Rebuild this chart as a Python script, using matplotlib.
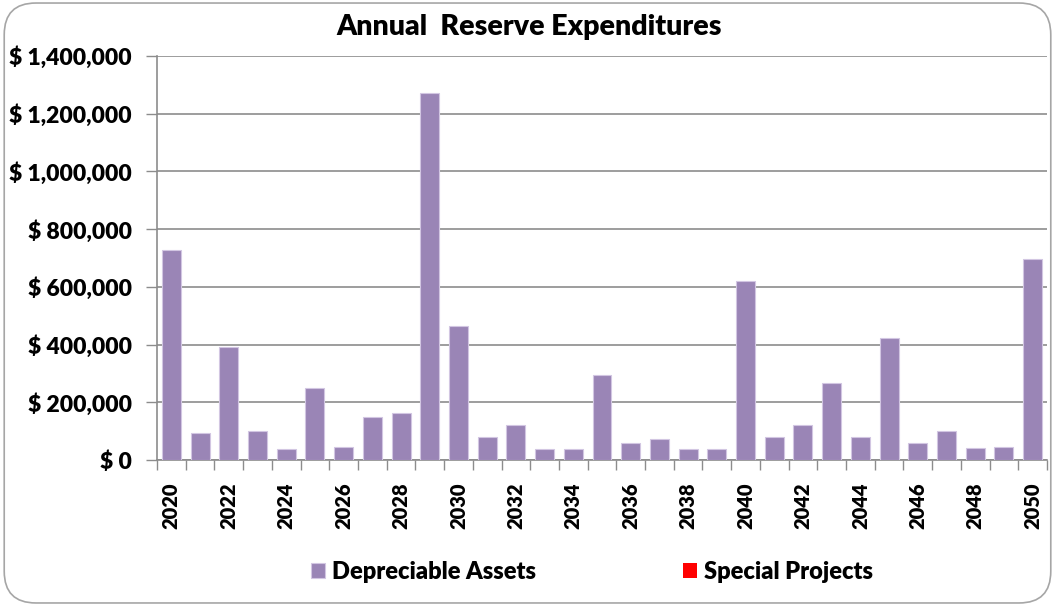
import matplotlib
matplotlib.use("Agg")
import matplotlib.pyplot as plt
from matplotlib.patches import FancyBboxPatch
from matplotlib.ticker import FuncFormatter, MultipleLocator

plt.rcParams['font.family'] = ['Lato', 'DejaVu Sans']

# ---- data ----
years = list(range(2020, 2051))
depreciable = [726000, 95000, 393000, 99000, 37000, 251000, 46000, 148000,
               162000, 1273000, 463000, 78000, 123000, 37000, 37000, 295000,
               60000, 73000, 37000, 37000, 619000, 78000, 123000, 268000,
               78000, 424000, 60000, 99000, 42000, 46000, 695000]
special = [0] * len(years)
year_labels = [str(y) if (y - 2020) % 2 == 0 else '' for y in years]

PURPLE = '#9a85b6'
RED = '#ff0000'
GRID = '#8c8c8c'

fig = plt.figure(figsize=(10.55, 6.06), dpi=100)
ax = fig.add_axes([157 / 1055, 1 - 460 / 606, 890 / 1055, 404 / 606])

# rounded chart frame
frame = FancyBboxPatch((0.004, 0.005), 0.992, 0.99,
                       boxstyle="round,pad=0,rounding_size=0.03",
                       transform=fig.transFigure, facecolor='none',
                       edgecolor='#a6a6a6', linewidth=1.2, mutation_aspect=1055 / 606)
fig.patches.append(frame)

x = list(range(len(years)))
ax.bar(x, depreciable, width=0.66, color=PURPLE, edgecolor='#d2c6e2',
       linewidth=0.8, label='Depreciable Assets', zorder=3)
ax.bar(x, special, width=0.66, bottom=depreciable, color=RED,
       label='Special Projects', zorder=3)

ax.set_xlim(-0.5, len(years) - 0.5)
ax.set_ylim(0, 1400000)
ax.yaxis.set_major_locator(MultipleLocator(200000))
ax.yaxis.set_major_formatter(FuncFormatter(lambda v, p: f'$ {v:,.0f}' if v else '$ 0'))
ax.grid(axis='y', color=GRID, linewidth=1.2, zorder=0)

ax.set_xticks(x)
ax.set_xticklabels(year_labels, rotation=90, fontsize=14.5, fontweight='heavy')
ax.set_xticks([i - 0.5 for i in range(len(years) + 1)], minor=True)
ax.tick_params(axis='x', which='major', length=0, pad=16)
ax.tick_params(axis='x', which='minor', length=7, color=GRID, width=1)
ax.tick_params(axis='y', length=8, color=GRID, width=1, pad=10, labelsize=16.5)
for lbl in ax.get_yticklabels():
    lbl.set_fontweight('heavy')

for side in ['top', 'right']:
    ax.spines[side].set_visible(False)
for side in ['left', 'bottom']:
    ax.spines[side].set_color(GRID)
    ax.spines[side].set_linewidth(1.2)

fig.text(0.502, 0.955, 'Annual  Reserve Expenditures', ha='center', va='center',
         fontsize=20.5, fontweight='heavy')

handles, labels = ax.get_legend_handles_labels()
fig.legend(handles, labels, loc='center', bbox_to_anchor=(0.561, 0.056), ncol=2,
           frameon=False, prop={'size': 17, 'weight': 'heavy'},
           handlelength=0.6, handleheight=0.6, handletextpad=0.3, columnspacing=6.2)

fig.savefig('out.png', dpi=100)
